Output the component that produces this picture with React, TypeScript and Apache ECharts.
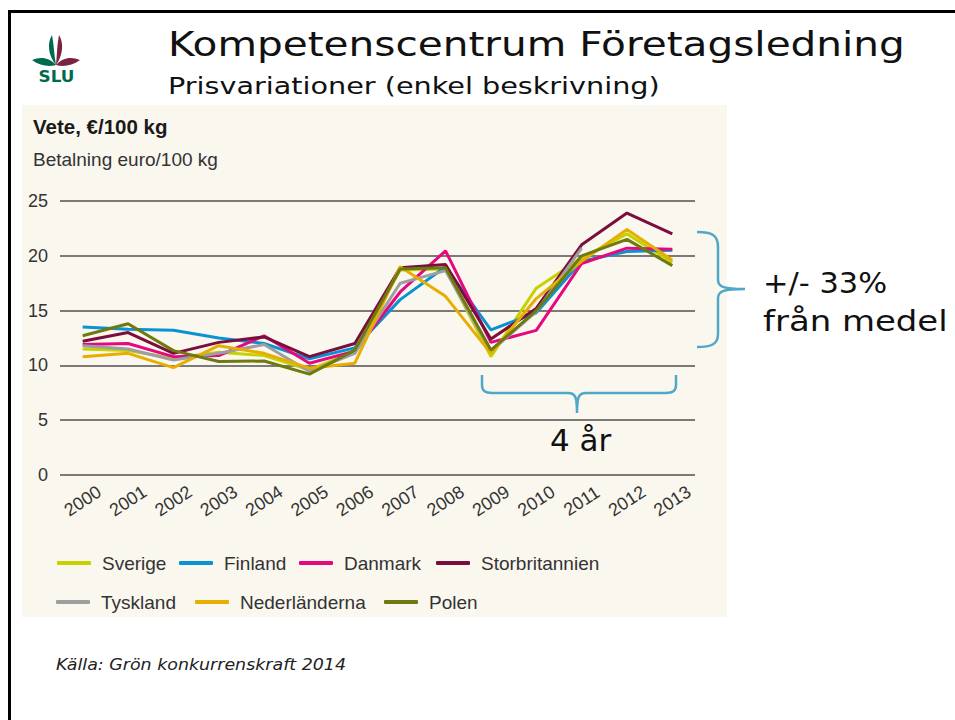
import { useEffect, useRef } from 'react';
import * as echarts from 'echarts';

const years = ['2000', '2001', '2002', '2003', '2004', '2005', '2006', '2007', '2008', '2009', '2010', '2011', '2012', '2013'];
const sverige = [11.5, 11.35, 10.65, 11.2, 10.9, 9.6, 11.3, 18.7, 18.8, 10.8, 17.05, 19.8, 22.0, 19.4];
const finland = [13.5, 13.3, 13.2, 12.5, 12.0, 10.6, 11.6, 16.0, 19.0, 13.25, 14.8, 19.5, 20.4, 20.5];
const danmark = [11.9, 12.0, 10.8, 10.9, 12.7, 10.2, 11.3, 16.7, 20.45, 12.1, 13.2, 19.3, 20.7, 20.6];
const storbritannien = [12.2, 13.0, 11.1, 12.1, 12.6, 10.8, 12.0, 18.9, 19.2, 12.4, 15.2, 21.0, 23.9, 22.0];
const tyskland = [11.8, 11.5, 10.5, 11.1, 11.9, 9.45, 11.1, 17.5, 18.65, 11.3, 14.9, 20.7, null, null];
const nederlanderna = [10.8, 11.1, 9.8, 11.8, 11.1, 9.75, 10.2, 19.0, 16.3, 11.1, 16.1, 19.5, 22.4, 19.6];
const polen = [12.7, 13.8, 11.35, 10.35, 10.4, 9.2, 11.4, 18.8, 18.9, 11.4, 15.0, 20.0, 21.5, 19.1];

const seriesNames = ['Sverige', 'Finland', 'Danmark', 'Storbritannien', 'Tyskland', 'Nederländerna', 'Polen'];
const seriesData = [sverige, finland, danmark, storbritannien, tyskland, nederlanderna, polen];
const seriesColors = ['#c5d200', '#0a93d2', '#e5087e', '#7a0f3d', '#9c9ea0', '#e6ae00', '#6e7a10'];

const titleText = 'Kompetenscentrum Företagsledning';
const subtitleText = 'Prisvariationer (enkel beskrivning)';
const chartTitle = 'Vete, €/100 kg';
const unitText = 'Betalning euro/100 kg';
const rangeText1 = '+/- 33%';
const rangeText2 = 'från medel';
const periodText = '4 år';
const sourceText = 'Källa: Grön konkurrenskraft 2014';

const legendPos: [number, number][] = [
  [57, 553], [179, 553], [299, 553], [436, 553],
  [56, 592], [195, 592], [384, 592],
];

let registered = false;
function registerShapes() {
  if (registered) return;
  registered = true;
  echarts.graphic.registerShape('braceRight', echarts.graphic.extendPath(
    'M697,232 C712,232 718,235 718,247 L718,280 C718,287 724,289 745,289 C724,289 718,291 718,298 L718,334 C718,344 712,347 697,347', {}));
  echarts.graphic.registerShape('braceBottom', echarts.graphic.extendPath(
    'M482,375 L482,385 C482,391 485,393 492,393 L568,393 C575,393 577,396 577,413 C577,396 579,393 586,393 L666,393 C673,393 676,391 676,385 L676,375', {}));
  echarts.graphic.registerShape('sluGreen', echarts.graphic.extendPath(
    'M52,35 C47,43 48,55 56,65 C54,55 54,45 52,35 Z M56,65 C50,58 41,56 32,60 C40,66 49,67 56,65 Z', {}));
  echarts.graphic.registerShape('sluRed', echarts.graphic.extendPath(
    'M59,35 C64,43 63,55 56,65 C57,55 57,45 59,35 Z M56,65 C62,58 71,56 80,60 C72,66 63,67 56,65 Z', {}));
}

const sansFont = "'Liberation Sans', Arial, sans-serif";
const slideFont = "'DejaVu Sans', Verdana, sans-serif";

export default function App() {
  const ref = useRef<HTMLDivElement>(null);
  useEffect(() => {
    if (!ref.current) return;
    registerShapes();
    const chart = echarts.init(ref.current, undefined, { renderer: 'svg' });
    const option: any = {
      animation: false,
      backgroundColor: '#ffffff',
      grid: { left: 60, right: 260, top: 201, bottom: 245, containLabel: false },
      xAxis: {
        type: 'category',
        data: years,
        boundaryGap: true,
        axisLine: { show: false },
        axisTick: { show: false },
        axisLabel: {
          interval: 0, rotate: 33, align: 'center', verticalAlign: 'middle', margin: 26,
          fontSize: 18, color: '#333', fontFamily: sansFont,
        },
      },
      yAxis: {
        type: 'value', min: 0, max: 25, interval: 5,
        axisLine: { show: false },
        axisTick: { show: false },
        axisLabel: { margin: 12, fontSize: 18, color: '#333', fontFamily: sansFont, padding: [0, 0, 10, 0] },
        splitLine: { lineStyle: { color: '#505050', width: 1.5 } },
      },
      legend: seriesNames.map((n, i) => ({
        data: [n],
        left: legendPos[i][0],
        top: legendPos[i][1],
        padding: 0,
        icon: 'roundRect',
        itemWidth: 34,
        itemHeight: 4,
        selectedMode: false,
        textStyle: { fontSize: 19, lineHeight: 20, color: '#333', fontFamily: sansFont, padding: [0, 0, 0, 6] },
      })),
      series: seriesNames.map((n, i) => ({
        type: 'line',
        name: n,
        data: seriesData[i],
        symbol: 'none',
        connectNulls: false,
        lineStyle: { width: 3, color: seriesColors[i] },
        itemStyle: { color: seriesColors[i] },
      })),
      graphic: [
        { type: 'rect', z: -10, shape: { x: 22, y: 105, width: 705, height: 512 }, style: { fill: '#faf7ef' } },
        { type: 'rect', z: 50, shape: { x: 9.5, y: 11.5, width: 980, height: 760 }, style: { fill: 'none', stroke: '#000', lineWidth: 3 } },
        { type: 'sluGreen', x: 0, y: 0, style: { fill: '#006a4e' } },
        { type: 'sluRed', x: 0, y: 0, style: { fill: '#7b2340' } },
        { type: 'text', x: 56.5, y: 77, scaleX: 1.05, style: { text: 'SLU', fill: '#006a4e', font: "bold 16px 'DejaVu Sans', sans-serif", align: 'center', verticalAlign: 'middle' } },
        { type: 'text', x: 168, y: 45, scaleX: 1.23, style: { text: titleText, fill: '#111', font: `33px ${slideFont}`, align: 'left', verticalAlign: 'middle' } },
        { type: 'text', x: 168, y: 85.5, scaleX: 1.22, style: { text: subtitleText, fill: '#111', font: `23.5px ${slideFont}`, align: 'left', verticalAlign: 'middle' } },
        { type: 'text', x: 33, y: 126, style: { text: chartTitle, fill: '#1a1a1a', font: `bold 20.5px ${sansFont}`, align: 'left', verticalAlign: 'middle' } },
        { type: 'text', x: 33, y: 159, style: { text: unitText, fill: '#333', font: `19px ${sansFont}`, align: 'left', verticalAlign: 'middle' } },
        { type: 'braceRight', x: 0, y: 0, style: { fill: 'none', stroke: '#4fa8c8', lineWidth: 2.5 } },
        { type: 'braceBottom', x: 0, y: 0, style: { fill: 'none', stroke: '#4fa8c8', lineWidth: 2.5 } },
        { type: 'text', x: 763, y: 283, scaleX: 1.05, style: { text: rangeText1, fill: '#111', font: `29px ${slideFont}`, align: 'left', verticalAlign: 'middle' } },
        { type: 'text', x: 763, y: 321, scaleX: 1.17, style: { text: rangeText2, fill: '#111', font: `29px ${slideFont}`, align: 'left', verticalAlign: 'middle' } },
        { type: 'text', x: 550, y: 440, style: { text: periodText, fill: '#111', font: `31px ${slideFont}`, align: 'left', verticalAlign: 'middle' } },
        { type: 'text', x: 56, y: 664, scaleX: 1.09, style: { text: sourceText, fill: '#222', font: `italic 16px ${slideFont}`, align: 'left', verticalAlign: 'middle' } },
      ],
    };
    chart.setOption(option);
    return () => chart.dispose();
  }, []);
  return <div ref={ref} style={{ position: 'absolute', left: 0, top: 0, width: 955, height: 720 }} />;
}
